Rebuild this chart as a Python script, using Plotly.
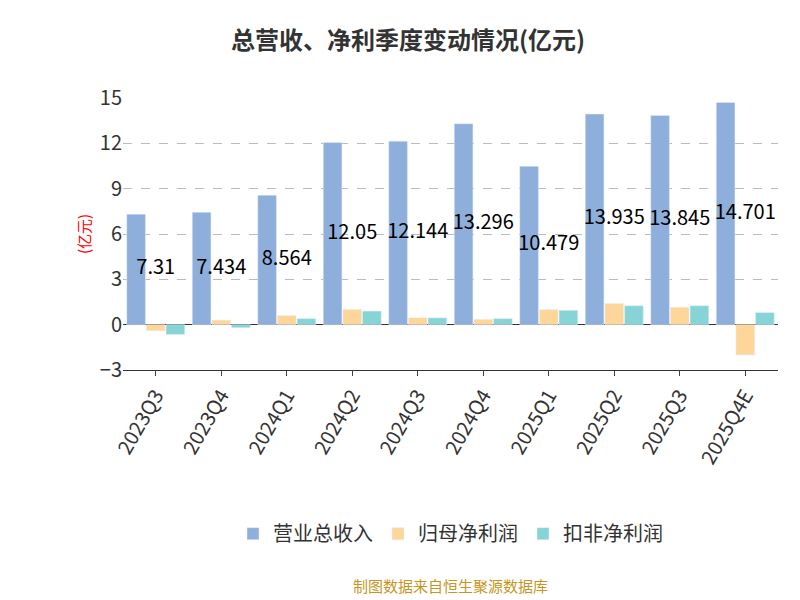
import plotly.graph_objects as go

quarters = ["2023Q3", "2023Q4", "2024Q1", "2024Q2", "2024Q3", "2024Q4",
            "2025Q1", "2025Q2", "2025Q3", "2025Q4E"]
revenue = [7.31, 7.434, 8.564, 12.05, 12.144, 13.296, 10.479, 13.935, 13.845, 14.701]
net_profit = [-0.4, 0.3, 0.6, 1.0, 0.45, 0.35, 1.0, 1.4, 1.15, -2.0]
net_profit_deducted = [-0.65, -0.2, 0.4, 0.9, 0.45, 0.4, 0.95, 1.25, 1.25, 0.8]

font = "Noto Sans CJK SC"
fig = go.Figure()
fig.add_trace(go.Bar(x=quarters, y=revenue, name="营业总收入", marker_color="#8eaedb",
                     offsetgroup="a"))
fig.add_trace(go.Bar(x=quarters, y=net_profit, name="归母净利润", marker_color="#ffd699",
                     offsetgroup="b"))
fig.add_trace(go.Bar(x=quarters, y=net_profit_deducted, name="扣非净利润",
                     marker_color="#86d4d6", offsetgroup="c"))
fig.add_trace(go.Scatter(x=quarters, y=[v / 2 for v in revenue], mode="text",
                         text=[f"{v:g}" for v in revenue], showlegend=False,
                         textfont=dict(size=20, color="black", family=font),
                         hoverinfo="skip"))

fig.update_layout(
    width=800, height=600,
    title=dict(text="<b>总营收、净利季度变动情况(亿元)</b>", x=0.5, y=0.96,
               font=dict(size=24, color="#333", family=font)),
    font=dict(family=font, color="#333"),
    plot_bgcolor="white", paper_bgcolor="white",
    bargap=0.1, bargroupgap=0.05,
    margin=dict(l=115, r=30, t=90, b=238),
    legend=dict(orientation="h", x=0.5, xanchor="center", y=-0.53, yanchor="top",
                font=dict(size=20, color="#333")),
    annotations=[dict(text="制图数据来自恒生聚源数据库", x=0.5, xref="paper",
                      y=-0.84, yref="paper", showarrow=False,
                      font=dict(size=15, color="#c8961e"))],
)
fig.update_xaxes(tickangle=-60, tickfont=dict(size=20, color="#333"),
                 showline=True, linecolor="#333", ticks="outside")
fig.update_yaxes(range=[-3, 15], dtick=3, tickfont=dict(size=20, color="#333"),
                 showgrid=True, gridcolor="#bbb", griddash="dash",
                 zeroline=True, zerolinecolor="#333", zerolinewidth=1,
                 title=dict(text="(亿元)", font=dict(size=15, color="red"), standoff=5))
fig.write_html("out.html")
